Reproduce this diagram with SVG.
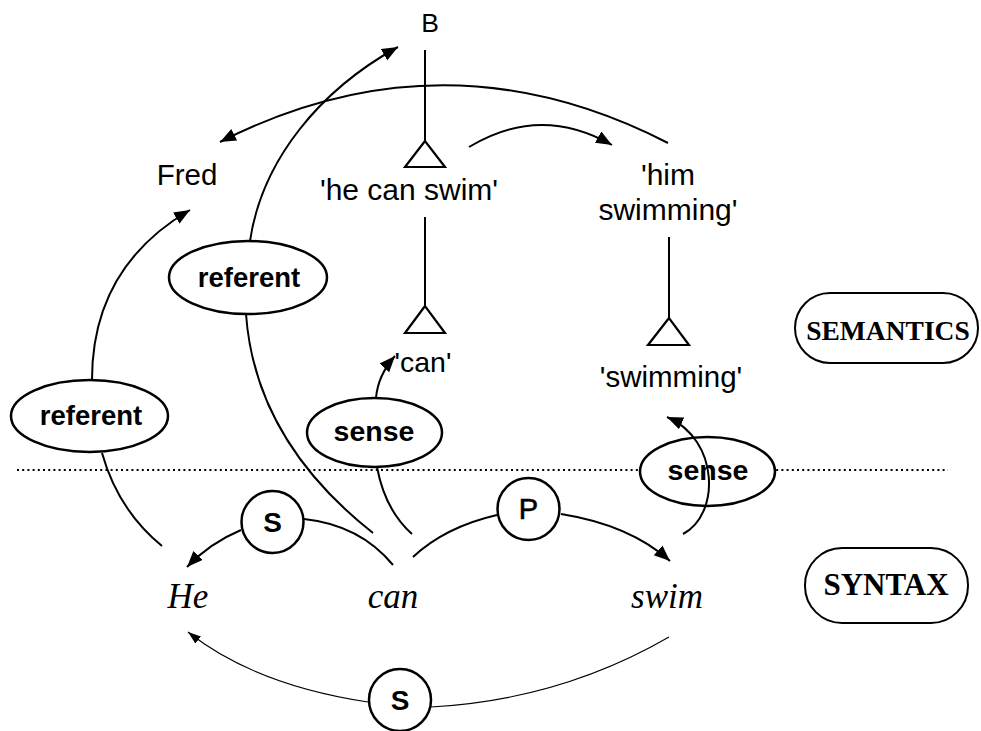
<svg xmlns="http://www.w3.org/2000/svg" width="981" height="731" viewBox="0 0 981 731">
<style>
.ln{fill:none;stroke:#000;stroke-width:2}
.thin{fill:none;stroke:#000;stroke-width:1.1}
.sans{font-family:"Liberation Sans",Arial,sans-serif;fill:#000;text-anchor:middle}
.bold{font-family:"Liberation Sans",Arial,sans-serif;font-weight:bold;fill:#000;text-anchor:middle}
.ital{font-family:"Liberation Serif","Times New Roman",serif;font-style:italic;fill:#000;text-anchor:middle}
.serb{font-family:"Liberation Serif","Times New Roman",serif;font-weight:bold;fill:#000;text-anchor:middle}
.shape{fill:#fff;stroke:#000;stroke-width:2.5}
.tri{fill:#fff;stroke:#000;stroke-width:2.2}
</style>
<defs>
<marker id="ah" markerUnits="userSpaceOnUse" markerWidth="18" markerHeight="14" refX="16" refY="6.5" orient="auto">
<path d="M0,0 L16,6.5 L0,13 z" fill="#000"/>
</marker>
<marker id="ahs" markerUnits="userSpaceOnUse" markerWidth="14" markerHeight="10" refX="13" refY="4.5" orient="auto">
<path d="M0,0 L13,4.5 L0,9 z" fill="#000"/>
</marker>
</defs>
<rect width="981" height="731" fill="#fff"/>
<line x1="17" y1="470" x2="948" y2="470" stroke="#000" stroke-width="2.2" stroke-dasharray="2 3.2"/>
<g id="B"><text class="sans" x="430" y="32" font-size="26.5">B</text></g>
<g id="he-can-swim">
<line class="ln" x1="425" y1="50" x2="425" y2="141"/>
<polygon class="tri" points="425,141 405,167 445,167"/>
<text class="sans" x="409" y="200" font-size="30">'he can swim'</text>
</g>
<g id="can-sem">
<line class="ln" x1="425" y1="217" x2="425" y2="306"/>
<polygon class="tri" points="425,306 405,333 445,333"/>
<text class="sans" x="423" y="372" font-size="28.5">'can'</text>
</g>
<g id="Fred"><text class="sans" x="187" y="185" font-size="29.5">Fred</text></g>
<g id="him-swimming">
<text class="sans" x="668" y="185" font-size="30">'him</text>
<text class="sans" x="668" y="220" font-size="30">swimming'</text>
<line class="ln" x1="669" y1="237" x2="669" y2="318"/>
<polygon class="tri" points="669,318 648,345 689,345"/>
</g>
<g id="swimming-sem"><text class="sans" x="671" y="387" font-size="29.5">'swimming'</text></g>
<g id="semantics-box">
<rect x="795" y="293" width="183" height="70" rx="35" fill="#fff" stroke="#000" stroke-width="2"/>
<text class="serb" x="888" y="340" font-size="27.5">SEMANTICS</text>
</g>
<g id="syntax-box">
<rect x="805" y="548" width="163" height="75" rx="37" fill="#fff" stroke="#000" stroke-width="2"/>
<text class="serb" x="886" y="595" font-size="31">SYNTAX</text>
</g>
<g id="referent-1"><ellipse class="shape" cx="248" cy="277.5" rx="79" ry="36.5"/><text class="bold" x="249" y="287" font-size="27.5">referent</text></g>
<g id="referent-2"><ellipse class="shape" cx="89.5" cy="416" rx="78.5" ry="36"/><text class="bold" x="91" y="425" font-size="27.5">referent</text></g>
<g id="sense-1"><ellipse class="shape" cx="374.5" cy="432.5" rx="67.5" ry="34.5"/><text class="bold" x="374" y="441" font-size="28.5">sense</text></g>
<g id="sense-2"><ellipse class="shape" cx="707.5" cy="471.5" rx="67.5" ry="34.5"/><text class="bold" x="708" y="480" font-size="28.5">sense</text></g>
<g id="S-1"><circle class="shape" cx="272.5" cy="522" r="31"/><text class="bold" x="272.5" y="532" font-size="28">S</text></g>
<g id="P"><circle class="shape" cx="528.5" cy="509" r="31"/><text class="sans" x="528.5" y="519" font-size="29" font-weight="500" stroke="#000" stroke-width="0.6">P</text></g>
<g id="S-2"><circle class="shape" cx="400" cy="700" r="31"/><text class="bold" x="400" y="710" font-size="28">S</text></g>
<g id="He"><text class="ital" x="188" y="608" font-size="35">He</text></g>
<g id="can"><text class="ital" x="393" y="608" font-size="35">can</text></g>
<g id="swim"><text class="ital" x="667" y="608" font-size="35">swim</text></g>
<g id="connectors">
<path class="ln" d="M668 143 Q444 28 220 142" marker-end="url(#ah)"/>
<path class="ln" d="M250 241 C262 160 320 90 398 47" marker-end="url(#ah)"/>
<path class="ln" d="M246 314 Q255 440 373 533"/>
<path class="ln" d="M92 380 C92 300 130 245 190 210" marker-end="url(#ah)"/>
<path class="ln" d="M102 453 Q118 510 162 546"/>
<path class="ln" d="M469 147 Q540 104 612 145" marker-end="url(#ah)"/>
<path class="ln" d="M376 398 Q378 375 395 356" marker-end="url(#ah)"/>
<path class="ln" d="M377 467 Q385 510 412 534"/>
<path class="ln" d="M393 565 Q360 525 304 519"/>
<path class="ln" d="M241 530 Q210 543 187 567" marker-end="url(#ah)"/>
<path class="ln" d="M413 557 Q445 527 497 515"/>
<path class="ln" d="M561 514 Q630 525 670 561" marker-end="url(#ah)"/>
<path class="ln" d="M683 534 C720 515 720 440 667 417" marker-end="url(#ah)"/>
<path class="thin" d="M669 637 Q560 700 431 707"/>
<path class="thin" d="M368 702 Q255 685 188 632" marker-end="url(#ahs)"/>
</g>
</svg>
